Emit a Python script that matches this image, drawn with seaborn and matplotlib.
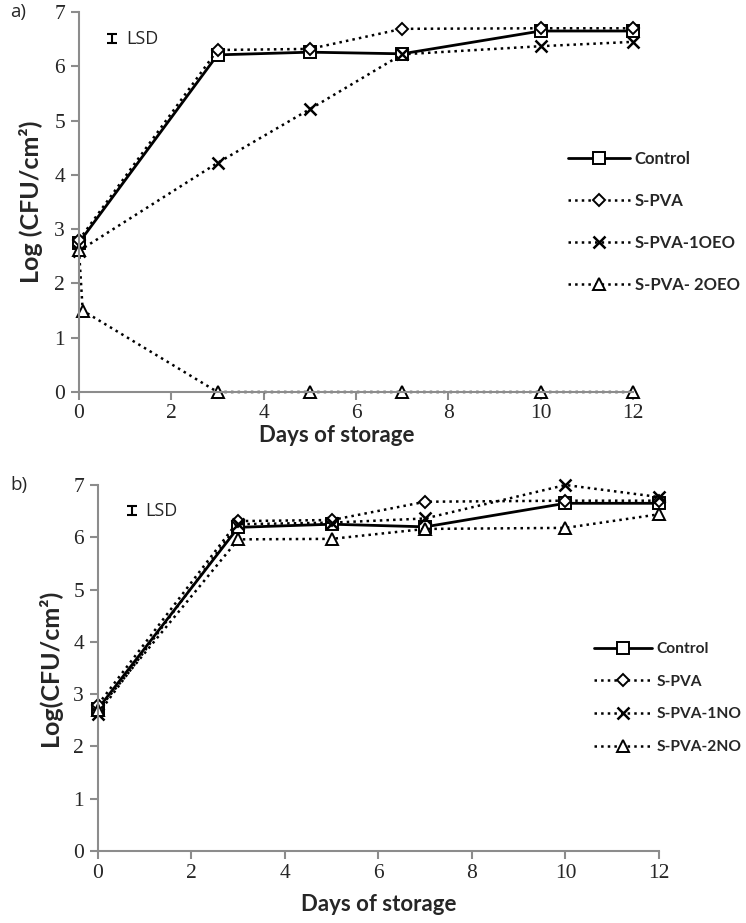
import matplotlib
matplotlib.use("Agg")
import matplotlib.pyplot as plt
import seaborn as sns

# ================================
# 1. Data
# ================================

days = [0, 3, 5, 7, 10, 12]
days_2oeo = [0, 0.08, 3, 5, 7, 10, 12]

# panel a) oregano essential oil
a_control = [2.75, 6.21, 6.26, 6.23, 6.65, 6.65]
a_spva = [2.80, 6.30, 6.32, 6.69, 6.70, 6.70]
a_spva_1oeo = [2.60, 4.22, 5.21, 6.22, 6.37, 6.45]
a_spva_2oeo = [2.62, 1.50, 0, 0, 0, 0, 0]

# panel b) nisin
b_control = [2.72, 6.19, 6.25, 6.20, 6.65, 6.65]
b_spva = [2.80, 6.31, 6.33, 6.68, 6.70, 6.70]
b_spva_1no = [2.62, 6.25, 6.28, 6.36, 7.00, 6.77]
b_spva_2no = [2.70, 5.96, 5.97, 6.16, 6.18, 6.44]

labels_a = ["Control", "S-PVA", "S-PVA-1OEO", "S-PVA- 2OEO"]
labels_b = ["Control", "S-PVA", "S-PVA-1NO", "S-PVA-2NO"]

# ================================
# 2. Style
# ================================

sns.set_theme(style="white")
plt.rcParams["font.family"] = ["Lato", "DejaVu Sans"]

grey = "#8c8c8c"
tick_family = "Liberation Serif"
tick_size = 15.5
xlabel_size = 16
ylabel_size = 18

fig = plt.figure(figsize=(7.46, 9.23), dpi=100)
ax_a = fig.add_axes([79 / 746, 1 - 392 / 923, (633 - 79) / 746, (392 - 12) / 923])
ax_b = fig.add_axes([98 / 746, 1 - 851 / 923, (659 - 98) / 746, (851 - 485) / 923])

styles = [
    dict(marker="s", linestyle="-", linewidth=2.0),
    dict(marker="D", linestyle=":", linewidth=1.8, markersize=6.5),
    dict(marker="x", linestyle=":", linewidth=1.8, markeredgewidth=1.8),
    dict(marker="^", linestyle=":", linewidth=1.8),
]


def draw_panel(ax, xs, ys, labels):
    for x, y, lab, st in zip(xs, ys, labels, styles):
        kw = dict(color="black", markerfacecolor="white", markeredgecolor="black",
                  markersize=8, markeredgewidth=1.4)
        kw.update(st)
        sns.lineplot(x=x, y=y, ax=ax, label=lab, estimator=None, sort=False, **kw)
    ax.set_xlim(0, 12)
    ax.set_ylim(0, 7)
    ax.set_xticks(range(0, 13, 2))
    ax.set_yticks(range(0, 8))
    for s in ["top", "right"]:
        ax.spines[s].set_visible(False)
    for s in ["left", "bottom"]:
        ax.spines[s].set_color(grey)
        ax.spines[s].set_linewidth(1.5)
    ax.tick_params(axis="both", direction="out", length=6, width=1.5, color=grey,
                   left=True, bottom=True, pad=4)
    ax.tick_params(axis="x", pad=3)
    for t in ax.get_xticklabels() + ax.get_yticklabels():
        t.set_fontfamily(tick_family)
        t.set_fontsize(tick_size)
    ax.set_xlabel("Days of storage", fontsize=xlabel_size, fontweight="bold", labelpad=8)
    ax.patch.set_alpha(0)
    for ln in ax.lines:
        ln.set_clip_on(False)
    # LSD key
    ax.errorbar([0.06], [0.93], yerr=[0.012], transform=ax.transAxes, color="black",
                capsize=3.5, elinewidth=1.5, capthick=1.5, fmt="none")
    ax.text(0.085, 0.93, "LSD", transform=ax.transAxes, fontsize=13, va="center",
            fontfamily="Open Sans")


draw_panel(ax_a, [days, days, days, days_2oeo],
           [a_control, a_spva, a_spva_1oeo, a_spva_2oeo], labels_a)
draw_panel(ax_b, [days, days, days, days],
           [b_control, b_spva, b_spva_1no, b_spva_2no], labels_b)

ax_a.xaxis.set_label_coords(0.466, -0.086)

ax_a.set_ylabel("Log (CFU/cm²)", fontsize=ylabel_size, fontweight="bold", labelpad=8)
ax_b.set_ylabel("Log(CFU/cm²)", fontsize=ylabel_size, fontweight="bold", labelpad=8)

leg_kw = dict(loc="upper left", bbox_transform=fig.transFigure, frameon=False,
              borderpad=0, borderaxespad=0, handlelength=3.7, handletextpad=0.3)
ax_a.legend(bbox_to_anchor=(568 / 746, 1 - 151 / 923), labelspacing=1.55,
            prop={"weight": "bold", "size": 12}, **leg_kw)
ax_b.legend(bbox_to_anchor=(594 / 746, 1 - 642 / 923), labelspacing=1.2,
            prop={"weight": "bold", "size": 11.2}, **leg_kw)

fig.text(10 / 746, 1 - 12 / 923, "a)", fontsize=13.5, va="center", fontfamily="Open Sans")
fig.text(10 / 746, 1 - 485 / 923, "b)", fontsize=13.5, va="center", fontfamily="Open Sans")

fig.savefig("out.png", dpi=100)
